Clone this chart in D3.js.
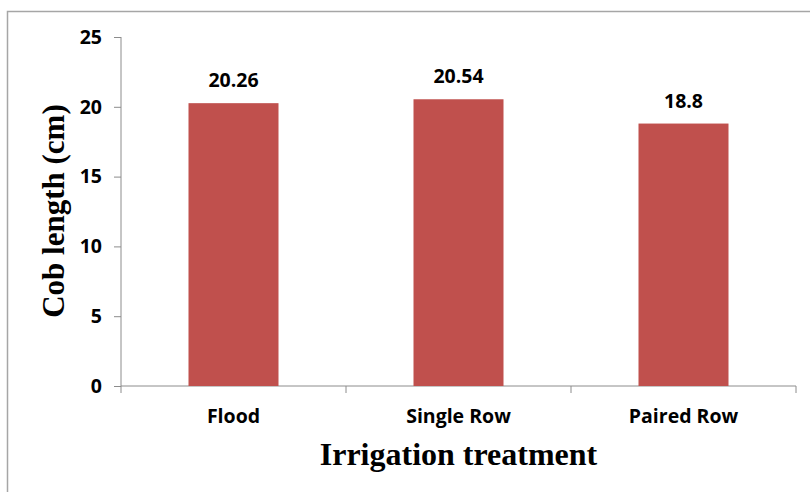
<!DOCTYPE html>
<html lang="en">
<head>
<meta charset="UTF-8">
<title>Cob length</title>
<script src="https://d3js.org/d3.v7.min.js"></script>
<style>
    body { margin: 0; background: #fff; }
    .tick text { font-family: "Open Sans", sans-serif; font-weight: bold; font-size: 19.5px; fill: #000; }
    .axis path, .axis line { stroke: #8c8c8c; }
    .axis-title { font-family: "Liberation Serif", "Times New Roman", serif; font-weight: bold; font-size: 32px; }
    .bar-label { font-family: "Open Sans", sans-serif; font-weight: bold; font-size: 19.5px; }
</style>
</head>
<body>
<div id="chart"></div>
<script>
    var categories = ["Flood", "Single Row", "Paired Row"];
    var cobLength = [20.26, 20.54, 18.8];
    var yTicks = [0, 5, 10, 15, 20, 25];

    var W = 810, H = 492;
    var margin = {top: 37, right: 14, bottom: 106, left: 121},
        width = W - margin.left - margin.right,
        height = H - margin.top - margin.bottom;

    var root = d3.select("#chart").append("svg")
        .attr("width", W)
        .attr("height", H);

    // chart frame, only top and left edges show in the picture
    root.append("rect")
        .attr("x", 7.5).attr("y", 11.5)
        .attr("width", W).attr("height", H)
        .attr("fill", "none")
        .attr("stroke", "#a6a6a6")
        .attr("stroke-width", 1.5);

    var svg = root.append("g")
        .attr("transform", "translate(" + margin.left + "," + margin.top + ")");

    var x = d3.scaleBand()
        .domain(categories)
        .range([0, width])
        .paddingInner(0.6)
        .paddingOuter(0.3);

    var step = x.step();

    var y = d3.scaleLinear()
        .domain([0, 25])
        .range([height, 0]);

    svg.append("g")
        .attr("class", "axis")
        .call(d3.axisLeft(y).tickValues(yTicks).tickSize(7).tickPadding(12))
        .call(function (g) { g.select(".domain").attr("d", "M0,0V" + height); });

    // category axis: ticks sit on the band edges
    var xAxis = svg.append("g")
        .attr("class", "axis")
        .attr("transform", "translate(0," + height + ")");
    xAxis.append("line")
        .attr("x1", 0).attr("x2", width)
        .attr("y1", 0).attr("y2", 0);
    xAxis.selectAll(".edge")
        .data(d3.range(categories.length + 1))
        .enter().append("line")
        .attr("class", "edge")
        .attr("x1", function (d) { return d * step; })
        .attr("x2", function (d) { return d * step; })
        .attr("y1", 0).attr("y2", 7);
    xAxis.selectAll(".tick")
        .data(categories)
        .enter().append("g")
        .attr("class", "tick")
        .append("text")
        .attr("x", function (d) { return x(d) + x.bandwidth() / 2; })
        .attr("y", 37)
        .attr("text-anchor", "middle")
        .text(function (d) { return d; });

    var data = categories.map(function (c, i) { return {cat: c, val: cobLength[i]}; });

    svg.selectAll(".bar")
        .data(data)
        .enter().append("rect")
        .attr("class", "bar")
        .attr("x", function (d) { return x(d.cat); })
        .attr("y", function (d) { return y(d.val); })
        .attr("width", x.bandwidth())
        .attr("height", function (d) { return height - y(d.val); })
        .attr("fill", "#c0504d");

    svg.selectAll(".bar-label")
        .data(data)
        .enter().append("text")
        .attr("class", "bar-label")
        .attr("x", function (d) { return x(d.cat) + x.bandwidth() / 2; })
        .attr("y", function (d) { return y(d.val) - 16; })
        .attr("text-anchor", "middle")
        .text(function (d) { return d.val; });

    svg.append("text")
        .attr("class", "axis-title")
        .attr("x", width / 2)
        .attr("y", height + 79)
        .attr("text-anchor", "middle")
        .text("Irrigation treatment");

    svg.append("text")
        .attr("class", "axis-title")
        .style("font-size", "31px")
        .attr("transform", "translate(-57," + (211 - margin.top) + ") rotate(-90)")
        .attr("text-anchor", "middle")
        .text("Cob length (cm)");
</script>
</body>
</html>
